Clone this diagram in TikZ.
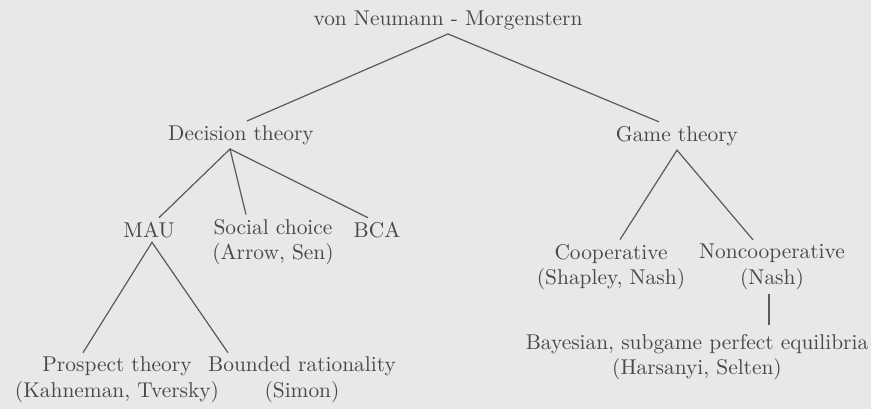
\documentclass[tikz,border=0pt]{standalone}
\definecolor{paper}{HTML}{E8E8E8}
\definecolor{ink}{HTML}{484848}
\tikzset{
    topic/.style={align=center, text=ink, inner sep=2pt, font=\fontsize{10.7}{12.8}\selectfont},
    branch/.style={draw=ink!90, line width=0.6pt}
}
\begin{document}
\begin{tikzpicture}[x=0.5pt,y=-0.5pt]
    \fill[paper] (0,0) rectangle (871,409);
    \useasboundingbox (0,0) rectangle (871,409);

    % nodes
    \node[topic] (vnm) at (448,20) {von Neumann - Morgenstern};
    \node[topic] (dec) at (241,135) {Decision theory};
    \node[topic] (game) at (677,136) {Game theory};
    \node[topic] (mau) at (149,230) {MAU};
    \node[topic] (soc) at (273,242) {Social choice\\(Arrow, Sen)};
    \node[topic] (bca) at (377,230) {BCA};
    \node[topic] (coop) at (611,267) {Cooperative\\(Shapley, Nash)};
    \node[topic] (noncoop) at (772,267) {Noncooperative\\(Nash)};
    \node[topic] (pros) at (117,380) {Prospect theory\\(Kahneman, Tversky)};
    \node[topic] (bnd) at (302,380) {Bounded rationality\\(Simon)};
    \node[topic] (bayes) at (697,357) {Bayesian, subgame perfect equilibria\\(Harsanyi, Selten)};

    % lines
    \draw[branch] ([xshift=3pt]dec.north) -- (vnm.south) -- ([xshift=-9pt]game.north);
    \draw[branch] ([xshift=5pt]mau.north) -- ([xshift=-5.5pt]dec.south) -- ([xshift=-13.5pt]soc.north);
    \draw[branch] ([xshift=-5.5pt]dec.south) -- ([xshift=-4.5pt]bca.north);
    \draw[branch] ([xshift=-17pt]pros.north) -- ([xshift=1.5pt]mau.south) -- ([xshift=-37pt]bnd.north);
    \draw[branch] ([xshift=4.5pt]coop.north) -- (game.south) -- ([xshift=-9.5pt]noncoop.north);
    \draw[branch] ([xshift=-1.5pt]noncoop.south) -- ([xshift=-1.5pt,yshift=2.5pt]noncoop.south |- bayes.north);
\end{tikzpicture}
\end{document}
